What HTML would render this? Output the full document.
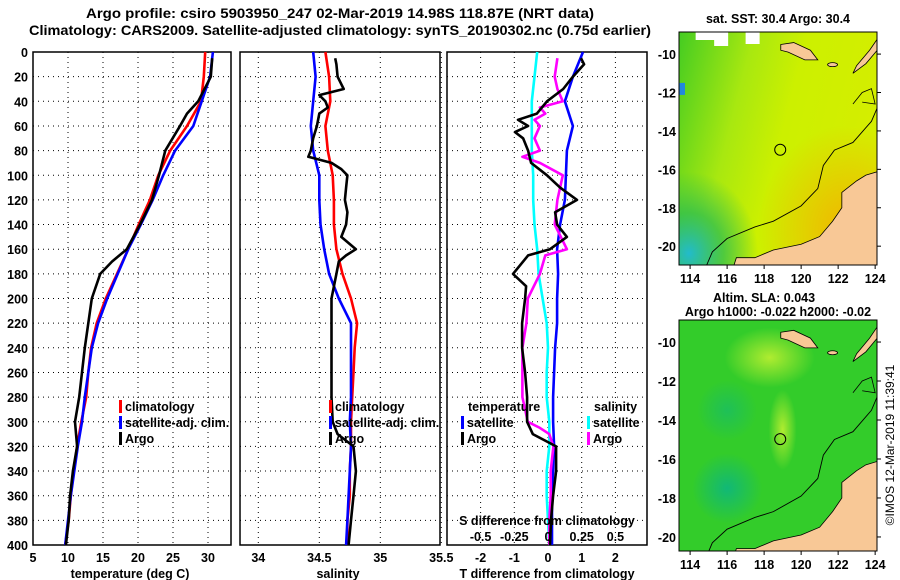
<!DOCTYPE html>
<html><head><meta charset="utf-8">
<style>
html,body{margin:0;padding:0;background:#fff;}
svg{display:block;font-family:"Liberation Sans",sans-serif;font-weight:bold;}
</style></head>
<body>
<svg id="c" width="900" height="580" viewBox="0 0 900 580" xmlns="http://www.w3.org/2000/svg">
<text x="340" y="18" text-anchor="middle" font-size="14" textLength="508" lengthAdjust="spacingAndGlyphs">Argo profile: csiro 5903950_247 02-Mar-2019 14.98S 118.87E (NRT data)</text>
<text x="340" y="35" text-anchor="middle" font-size="14" textLength="622" lengthAdjust="spacingAndGlyphs">Climatology: CARS2009. Satellite-adjusted climatology: synTS_20190302.nc (0.75d earlier)</text>
<g id="g"></g>
</svg>
<script>
// ---- data ----
const depths = [0,20,40,60,80,100,120,140,160,180,200,220,240,260,280,300,320,340,360,380,400];
const tempClim = [29.6,29.4,29.0,27.0,24.6,22.9,21.7,20.1,18.6,17.0,15.4,14.1,13.3,12.9,12.6,11.9,11.3,10.8,10.4,10.1,9.6];
const tempSat = [30.7,30.3,29.1,27.9,25.3,23.6,22.1,20.4,18.6,17.1,15.6,14.3,13.4,12.9,12.4,12.0,11.4,10.9,10.4,10.0,9.6];
const argoTempDepth = [5,20,40,50,60,80,100,120,140,160,170,180,200,220,240,260,280,300,320,340,360,380,400];
const argoTemp = [30.6,30.4,28.6,27.0,26.0,23.9,23.0,22.0,20.3,18.4,16.3,14.6,13.4,12.9,12.4,12.0,11.6,11.0,11.3,10.7,10.3,10.1,9.7];
const salClim = [34.55,34.58,34.59,34.55,34.57,34.61,34.62,34.62,34.64,34.69,34.76,34.81,34.79,34.78,34.77,34.76,34.76,34.75,34.75,34.73,34.73];
const salSat = [34.45,34.47,34.45,34.43,34.45,34.50,34.50,34.51,34.54,34.58,34.66,34.76,34.76,34.76,34.76,34.75,34.76,34.75,34.74,34.73,34.72];
const argoSalDepth = [5,10,20,30,35,40,45,50,60,70,80,85,90,95,100,110,120,130,140,150,160,165,170,180,200,220,240,260,280,300,310,320,340,360,380,400];
const argoSal = [34.63,34.64,34.65,34.70,34.50,34.55,34.57,34.50,34.48,34.45,34.43,34.41,34.60,34.68,34.73,34.72,34.71,34.73,34.72,34.68,34.80,34.72,34.66,34.64,34.60,34.60,34.60,34.60,34.60,34.61,34.65,34.78,34.80,34.78,34.76,34.74];
const tdSat = [1.04,0.74,0.5,0.74,0.56,0.53,0.5,0.36,0.27,0.3,0.27,0.27,0.21,0.18,0.15,0.15,0.18,0.15,0.12,0.12,0.12];
const tdArgoDepth = [5,10,20,30,40,50,55,60,65,70,80,90,100,110,120,130,140,150,160,165,180,190,200,220,240,260,280,300,310,320,340,360,380,400];
const tdArgo = [0.98,1.07,0.74,0.45,-0.03,-0.33,-0.89,-0.59,-0.98,-0.74,-0.59,-0.5,-0.03,0.36,0.86,0.21,0.27,0.56,0.06,-0.59,-1.04,-0.65,-0.68,-0.77,-0.77,-0.68,-0.62,-0.62,-0.45,0.24,0.24,0.15,0.09,0.06];
const sdSat = [-0.08,-0.10,-0.12,-0.12,-0.12,-0.11,-0.11,-0.10,-0.08,-0.07,-0.04,-0.01,0,-0.01,-0.01,0.01,0.01,-0.01,-0.01,0,0.01];
const sdArgoDepth = [5,20,30,40,45,50,55,60,70,80,85,90,100,120,140,160,165,180,200,220,240,260,280,300,305,310,320,340,360,380,400];
const sdArgo = [0.07,0.05,0.07,0.11,-0.06,-0.02,-0.10,-0.06,-0.10,-0.06,-0.19,-0.06,0.11,0.07,0.05,0.14,-0.02,-0.06,-0.15,-0.16,-0.19,-0.19,-0.19,-0.15,-0.06,0.01,0.04,0.02,0.02,0.01,0.01];
const depthTicks = [0,20,40,60,80,100,120,140,160,180,200,220,240,260,280,300,320,340,360,380,400];
const tempTicks = [5,10,15,20,25,30];
const salTicks = ["34","34.5","35","35.5"];
const tdTicks = [-2,-1,0,1,2];
const sdTicks = ["-0.5","-0.25","0","0.25","0.5"];
const latTicks = [-10,-12,-14,-16,-18,-20];
const lonTicks = [114,116,118,120,122,124];

const NS="http://www.w3.org/2000/svg";
const G=document.getElementById('g');
function mk(tag,attrs,parent){const e=document.createElementNS(NS,tag);for(const k in attrs)e.setAttribute(k,attrs[k]);(parent||G).appendChild(e);return e;}
function txt(x,y,s,size,anchor,parent){const t=mk('text',{x:x,y:y,'font-size':size,'text-anchor':anchor||'start'},parent);t.textContent=s;return t;}

const Y0=52,Y1=545;
const yD=d=>Y0+(d/400)*(Y1-Y0);
const xT=v=>33+(v-5)*7;
const xS=v=>240+(v-33.85)*122;
const xTd=v=>548+v*33.7;
const xSd=v=>548+v*134.8;

function frame(x0,x1,name){
  const g=mk('g',{});
  
  
  depthTicks.forEach(d=>{const l=mk('line',{x1:x0,x2:x1,y1:yD(d),y2:yD(d),stroke:'#000','stroke-width':1,'stroke-dasharray':'1,4'},g);
    
    });
  const r=mk('rect',{x:x0,y:Y0,width:x1-x0,height:Y1-Y0,fill:'none',stroke:'#000','stroke-width':1.5},g);
  
  
  return g;
}
function vgrid(g,x){const l=mk('line',{x1:x,x2:x,y1:Y0,y2:Y1,stroke:'#000','stroke-width':1,'stroke-dasharray':'1,4'},g);
  
  }
function line(xs,ds,xf,color,name,parent){
  const pts=xs.map((v,i)=>xf(v).toFixed(1)+','+yD(ds[i]).toFixed(1)).join(' ');
  const p=mk('polyline',{points:pts,fill:'none',stroke:color,'stroke-width':2.6,'stroke-linejoin':'round'},parent);
  
  
}
function legend(x,y,color,label,parent){
  const r=mk('rect',{x:x,y:y-11,width:3,height:13,fill:color},parent);
  
  
  const t=txt(x+6,y,label,12.5,'start',parent);
  
  
}

// Panel 1
const p1=frame(33,231,'temperature-panel');
tempTicks.forEach(v=>{vgrid(p1,xT(v));const t=txt(xT(v),562,String(v),12.5,'middle',p1);
  
  });
depthTicks.forEach(d=>{const t=txt(28,yD(d)+5,String(d),12.5,'end',p1);
  
  });
line(tempClim,depths,xT,'#f00','temp-climatology-line',p1);
line(tempSat,depths,xT,'#00f','temp-satellite-line',p1);
line(argoTemp,argoTempDepth,xT,'#000','temp-argo-line',p1);
legend(119,411,'#f00','climatology',p1);legend(119,427,'#00f','satellite-adj. clim.',p1);legend(119,443,'#000','Argo',p1);
let at=txt(130,578,'temperature (deg C)',12.5,'middle',p1);



// Panel 2
const p2=frame(240,440,'salinity-panel');
salTicks.forEach(v=>{vgrid(p2,xS(+v));const t=txt(xS(+v),562,v,12.5,'middle',p2);
  
  });
line(salClim,depths,xS,'#f00','sal-climatology-line',p2);
line(salSat,depths,xS,'#00f','sal-satellite-line',p2);
line(argoSal,argoSalDepth,xS,'#000','sal-argo-line',p2);
legend(329,411,'#f00','climatology',p2);legend(329,427,'#00f','satellite-adj. clim.',p2);legend(329,443,'#000','Argo',p2);
at=txt(338,578,'salinity',12.5,'middle',p2);



// Panel 3
const p3=frame(447,647,'difference-panel');
tdTicks.forEach(v=>{vgrid(p3,xTd(v));const t=txt(xTd(v),562,String(v),12.5,'middle',p3);
  
  });
line(sdSat,depths,xSd,'#0ff','sdiff-satellite-line',p3);
line(tdSat,depths,xTd,'#00f','tdiff-satellite-line',p3);
line(sdArgo,sdArgoDepth,xSd,'#f0f','sdiff-argo-line',p3);
line(tdArgo,tdArgoDepth,xTd,'#000','tdiff-argo-line',p3);
at=txt(468,411,'temperature',12.5,'start',p3);


at=txt(594,411,'salinity',12.5,'start',p3);


legend(461,427,'#00f','satellite',p3);legend(461,443,'#000','Argo',p3);
legend(587,427,'#0ff','satellite',p3);legend(587,443,'#f0f','Argo',p3);
at=txt(547,525,'S difference from climatology',12.5,'middle',p3);


sdTicks.forEach(v=>{const t=txt(xSd(+v),541,v,12.5,'middle',p3);
  
  });
at=txt(547,578,'T difference from climatology',12.5,'middle',p3);



// Maps
const defs=mk('defs',{});
defs.innerHTML=`
<linearGradient id="sstG" x1="0" y1="0" x2="1" y2="0.3"><stop offset="0" stop-color="#44cc22"/><stop offset="0.35" stop-color="#a8e810"/><stop offset="0.6" stop-color="#ccf000"/><stop offset="1" stop-color="#d4ee00"/></linearGradient>
<radialGradient id="sstO" cx="0.85" cy="0.85" r="0.45"><stop offset="0" stop-color="#f4b000" stop-opacity="0.9"/><stop offset="1" stop-color="#f4b000" stop-opacity="0"/></radialGradient>
<radialGradient id="sstB" cx="0.05" cy="0.95" r="0.35"><stop offset="0" stop-color="#22bbcc"/><stop offset="0.5" stop-color="#22bb55" stop-opacity="0.7"/><stop offset="1" stop-color="#22bb55" stop-opacity="0"/></radialGradient>
<radialGradient id="slaY" cx="0.5" cy="0.5" r="0.5"><stop offset="0" stop-color="#b0ec30"/><stop offset="1" stop-color="#b0ec30" stop-opacity="0"/></radialGradient>
<radialGradient id="slaT" cx="0.5" cy="0.5" r="0.5"><stop offset="0" stop-color="#11b877"/><stop offset="1" stop-color="#11b877" stop-opacity="0"/></radialGradient>`;
function drawMap(top,bottom,latTop,latBot,kind,name,labelY){
  const g=mk('g',{});
  
  
  const L0=113.4,L1=124.1,X0=679,X1=877;
  const mx=lon=>X0+(lon-L0)/(L1-L0)*(X1-X0);
  const my=lat=>top+(latTop-lat)/(latTop-latBot)*(bottom-top);
  const cl=mk('clipPath',{id:'clip'+kind},g);
  mk('rect',{x:X0,y:top,width:X1-X0,height:bottom-top},cl);
  const inner=mk('g',{'clip-path':'url(#clip'+kind+')'},g);
  if(kind==='sst'){
    mk('rect',{x:X0,y:top,width:X1-X0,height:bottom-top,fill:'url(#sstG)'},inner);
    mk('rect',{x:X0,y:top,width:X1-X0,height:bottom-top,fill:'url(#sstO)'},inner);
    mk('rect',{x:X0,y:top,width:X1-X0,height:bottom-top,fill:'url(#sstB)'},inner);
    mk('rect',{x:mx(114.3),y:top,width:20,height:8,fill:'#fff'},inner);
    mk('rect',{x:mx(115.3),y:top,width:14,height:14,fill:'#fff'},inner);
    mk('rect',{x:mx(117),y:top,width:14,height:12,fill:'#fff'},inner);
    mk('rect',{x:X0,y:my(-11.5),width:6,height:12,fill:'#2288dd'},inner);
  } else {
    mk('rect',{x:X0,y:top,width:X1-X0,height:bottom-top,fill:'#33cc2a'},inner);
    mk('ellipse',{cx:mx(118.3),cy:my(-10.8),rx:45,ry:30,fill:'url(#slaY)'},inner);
    mk('ellipse',{cx:mx(119),cy:my(-14.5),rx:14,ry:40,fill:'url(#slaY)'},inner);
    mk('ellipse',{cx:mx(116),cy:my(-17.5),rx:35,ry:35,fill:'url(#slaT)'},inner);
    mk('ellipse',{cx:mx(116),cy:my(-13.5),rx:30,ry:30,fill:'url(#slaT)','opacity':0.6},inner);
  }
  const land=[[116.3,-21.2],[116.5,-20.6],[117.5,-20.6],[118.5,-20.2],[120,-19.9],[121,-19.5],[121.7,-18.7],[122.2,-18],[122.2,-17.2],[123,-16.6],[123.5,-16.3],[124.2,-16.1],[124.2,-21.2]];
  const lp=mk('polygon',{points:land.map(p=>mx(p[0])+','+my(p[1])).join(' '),fill:'#f8c896',stroke:'#000','stroke-width':0.8},inner);
  
  
  const isl=[[118.9,-9.5],[119.6,-9.4],[120.5,-9.8],[120.9,-10.3],[120.2,-10.3],[119.3,-9.9],[118.9,-9.8]];
  mk('polygon',{points:isl.map(p=>mx(p[0])+','+my(p[1])).join(' '),fill:'#f8c896',stroke:'#000','stroke-width':0.8},inner);
  const tim=[[122.8,-11.0],[123.5,-10.5],[124.2,-9.7],[124.2,-9.1],[123.7,-9.8],[123,-10.6]];
  mk('polygon',{points:tim.map(p=>mx(p[0])+','+my(p[1])).join(' '),fill:'#f8c896',stroke:'#000','stroke-width':0.8},inner);
  mk('ellipse',{cx:mx(121.7),cy:my(-10.55),rx:5,ry:2,fill:'#f8c896',stroke:'#000','stroke-width':0.8},inner);
  const bath=[[114.8,-21.2],[115.2,-20.3],[116,-19.6],[117.5,-19.0],[118.5,-18.7],[120,-17.9],[120.9,-17.0],[121.2,-15.8],[121.8,-15],[122.8,-14.6],[123.8,-13.5],[124.2,-12.6]];
  mk('polyline',{points:bath.map(p=>mx(p[0])+','+my(p[1])).join(' '),fill:'none',stroke:'#000','stroke-width':0.9},inner);
  const b2=[[122.8,-12.6],[123.3,-12.0],[123.8,-11.8],[124.0,-12.6],[123.3,-12.5]];
  mk('polyline',{points:b2.map(p=>mx(p[0])+','+my(p[1])).join(' '),fill:'none',stroke:'#000','stroke-width':0.8},inner);
  const c=mk('circle',{cx:mx(118.87),cy:my(-14.98),r:5.5,fill:'none',stroke:'#000','stroke-width':1},g);
  
  
  mk('rect',{x:X0,y:top,width:X1-X0,height:bottom-top,fill:'none',stroke:'#000','stroke-width':1},g);
  latTicks.forEach(v=>{const t=txt(676,my(v)+5,String(v),12.5,'end',g);
    
    
    mk('line',{x1:X1,x2:X1+4,y1:my(v),y2:my(v),stroke:'#000'},g);});
  lonTicks.forEach(v=>{const t=txt(mx(v),labelY,String(v),12.5,'middle',g);
    
    
    mk('line',{x1:mx(v),x2:mx(v),y1:bottom,y2:bottom+4,stroke:'#000'},g);});
}
drawMap(32,265,-8.85,-20.98,'sst','sst-map',283);
drawMap(320,551,-8.87,-20.72,'sla','sla-map',569);
at=txt(778,23,'sat. SST: 30.4 Argo: 30.4',12.5,'middle');


at=txt(764,302,'Altim. SLA: 0.043',12.5,'middle');


at=txt(778,316,'Argo h1000: -0.022 h2000: -0.02',12.5,'middle');


at=txt(0,0,'©IMOS 12-Mar-2019 11:39:41',12,'middle');
at.setAttribute('transform','translate(894,445) rotate(-90)');
at.setAttribute('font-weight','normal');


</script>
</body></html>
